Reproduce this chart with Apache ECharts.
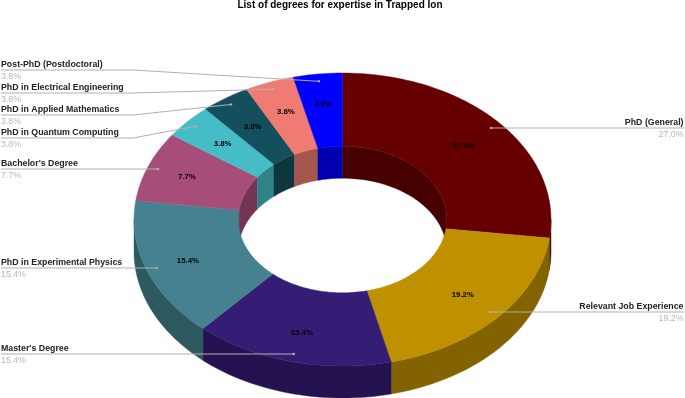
<!DOCTYPE html>
<html><head><meta charset="utf-8">
<style>html,body{margin:0;padding:0;background:#fff}#c{width:685px;height:398px}</style>
<script src="https://cdn.jsdelivr.net/npm/echarts@6/dist/echarts.min.js"></script>
</head><body><div id="c"></div>
<script>
const categories = ['PhD (General)','Relevant Job Experience',"Master's Degree",'PhD in Experimental Physics',"Bachelor's Degree",'PhD in Quantum Computing','PhD in Applied Mathematics','PhD in Electrical Engineering','Post-PhD (Postdoctoral)'];
const shares = [27.0,19.2,15.4,15.4,7.7,3.8,3.8,3.8,3.8];
const colors = ['#660000','#bf9000','#351c75','#45818e','#a64d79','#46bdc6','#134f5c','#f07b72','#0000ff'];
// layout only
const G = {cx:342.5, cy:219.5, rx:208.5, ry:146.5, hole:0.5, depth:32, dot:0.95, pct:0.775};
const labelLineY = [128,312,354,268,169,138,115,93,70];
const pctNudge = [[0,1],[0,0],[-1,3],[-3,2],[-5,-1],[0,0],[1,1],[0,-1],[0,-3]];
const FONT = '"Liberation Sans", Arial, sans-serif';
const total = shares.reduce((a,b)=>a+b,0);
const starts = []; { let s=0; shares.forEach(v=>{starts.push(s/total*360); s+=v;}); }
const rad = d => d*Math.PI/180;
const pt = (deg,r,dy=0) => [G.cx+Math.sin(rad(deg))*G.rx*r, G.cy-Math.cos(rad(deg))*G.ry*r+dy];
function arc(a,b,r,dy=0){const n=Math.max(2,Math.ceil((b-a)/1.5)),o=[];for(let i=0;i<=n;i++)o.push(pt(a+(b-a)*i/n,r,dy));return o;}
function shade(hex,f){const n=parseInt(hex.slice(1),16);return `rgb(${(n>>16)*f|0},${((n>>8)&255)*f|0},${(n&255)*f|0})`;}
function wall(a,b,r,lo,hi,color){
  const children=[];
  [[lo,hi],[lo+360,hi+360],[lo-360,hi-360]].forEach(([l,h])=>{
    const s=Math.max(a,l),e=Math.min(b,h);
    if(e>s){const top=arc(s,e,r),bot=arc(s,e,r,G.depth).reverse();
      children.push({type:'polygon',shape:{points:top.concat(bot)},style:{fill:color,stroke:color,lineWidth:0.4}});}
  });
  return children;
}
const sliceData = shares.map((v,i)=>[v,i]);
function walls(params,api){
  const i=api.value(1),a=starts[i],b=a+api.value(0)/total*360,c=shade(colors[i],0.69);
  return {type:'group',children:[...wall(a,b,G.hole,-90,90,c),...wall(a,b,1,90,270,c)]};
}
function tops(params,api){
  const i=api.value(1),a=starts[i],b=a+api.value(0)/total*360;
  const pts=arc(a,b,1).concat(arc(a,b,G.hole).reverse());
  return {type:'polygon',shape:{points:pts},style:{fill:colors[i],stroke:colors[i],lineWidth:0.4}};
}
function labels(params,api){
  const i=api.value(1),v=api.value(0),a=starts[i],m=a+v/total*180;
  const d=pt(m,G.dot),p=pt(m,G.pct),y=labelLineY[i],right=m<180;
  const x0=right?684:1;
  let pts=[[x0,y]];
  if(Math.abs(d[1]-y)>2) pts.push([133,y]);
  pts.push([d[0],right?y:(Math.abs(d[1]-y)>2?d[1]:y)]);
  const txt=v.toFixed(1)+'%';
  const tx=right?683.5:1;
  return {type:'group',children:[
    {type:'text',style:{text:txt,x:p[0]+pctNudge[i][0],y:p[1]+pctNudge[i][1],align:'center',verticalAlign:'middle',fill:'#000',font:'bold 7.8px '+FONT}},
    {type:'polyline',shape:{points:pts},style:{fill:null,stroke:'#b0b0b0',lineWidth:1}},
    {type:'circle',shape:{cx:pts[pts.length-1][0],cy:pts[pts.length-1][1],r:1.2},style:{fill:'#b0b0b0'}},
    {type:'text',style:{text:categories[i],x:tx,y:y-5.7,align:right?'right':'left',verticalAlign:'middle',fill:'#222',font:'bold 8.8px '+FONT}},
    {type:'text',style:{text:txt,x:tx,y:y+6.5,align:right?'right':'left',verticalAlign:'middle',fill:'#b7b7b7',font:'8.8px '+FONT}}
  ]};
}
const base={type:'custom',coordinateSystem:'none',data:sliceData,animation:false,silent:true,clip:false};
const chart=echarts.init(document.getElementById('c'),null,{renderer:'canvas'});
chart.setOption({
  animation:false,backgroundColor:'#fff',
  title:{text:'List of degrees for expertise in Trapped Ion',left:340,top:0,textAlign:'center',padding:0,textStyle:{fontFamily:FONT,fontSize:10,fontWeight:'bold',color:'#000'}},
  series:[
    Object.assign({},base,{renderItem:walls,z:1}),
    Object.assign({},base,{renderItem:tops,z:2}),
    Object.assign({},base,{renderItem:labels,z:3})
  ]
});
</script></body></html>
